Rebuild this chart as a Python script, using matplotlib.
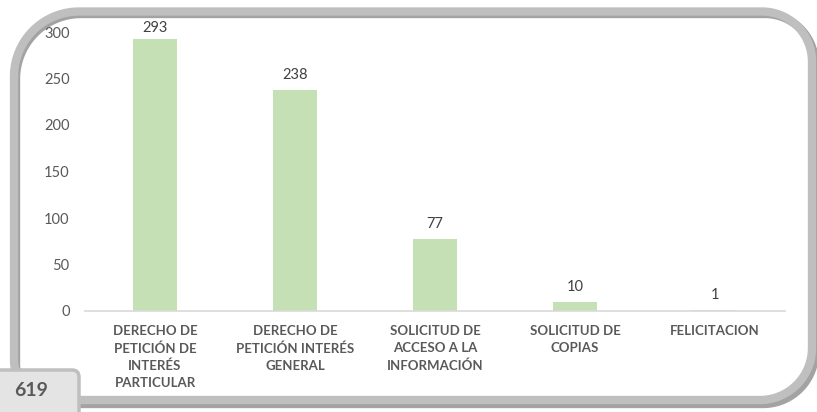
import numpy as np
import matplotlib.pyplot as plt
from matplotlib.path import Path
from matplotlib.patches import PathPatch, FancyBboxPatch

plt.rcParams['font.family'] = ['Lato', 'DejaVu Sans']

# Data
categories = ['DERECHO DE\nPETICIÓN DE\nINTERÉS\nPARTICULAR',
              'DERECHO DE\nPETICIÓN INTERÉS\nGENERAL',
              'SOLICITUD DE\nACCESO A LA\nINFORMACIÓN',
              'SOLICITUD DE\nCOPIAS',
              'FELICITACION']
values = [293, 238, 77, 10, 1]
total_label = '619'
yticks = [0, 50, 100, 150, 200, 250, 300]

W, H = 817, 412
fig = plt.figure(figsize=(W / 100, H / 100), dpi=100)

# background layer in pixel coordinates for the frame
bg = fig.add_axes([0, 0, 1, 1], zorder=0)
bg.set_xlim(0, W)
bg.set_ylim(H, 0)
bg.axis('off')


def rounded_frame(x0, y0, x1, y1, r_tl, r_tr, r_br, r_bl):
    pts = []

    def arc(cx, cy, r, a0, a1):
        t = np.radians(np.linspace(a0, a1, 30))
        return list(zip(cx + r * np.cos(t), cy + r * np.sin(t)))

    pts += arc(x0 + r_tl, y0 + r_tl, r_tl, 180, 270)
    pts += arc(x1 - r_tr, y0 + r_tr, r_tr, 270, 360)
    pts += arc(x1 - r_br, y1 - r_br, r_br, 0, 90)
    pts += arc(x0 + r_bl, y1 - r_bl, r_bl, 90, 180)
    pts.append(pts[0])
    return Path(pts)


shadow = rounded_frame(16, 14, 815, 404, 65, 50, 52, 40)
bg.add_patch(PathPatch(shadow, fill=False, edgecolor='#a3a3a3', lw=6))
frame = rounded_frame(14, 11.5, 812, 400, 65, 50, 52, 40)
bg.add_patch(PathPatch(frame, fill=False, edgecolor='#bfbfbf', lw=6))

# total box bottom-left
box = FancyBboxPatch((-10, 370), 89, 60, boxstyle='round,pad=0,rounding_size=7',
                     facecolor='#e4e4e4', edgecolor='#bfbfbf', lw=2.5)
bg.add_patch(box)
bg.text(31, 391, total_label, fontsize=14, fontweight='bold', color='#595959',
        ha='center', va='center')

# chart
ax = fig.add_axes([85 / W, 1 - 311 / H, 700 / W, (311 - 32) / H], zorder=1)
ax.patch.set_alpha(0)
x = np.arange(len(values))
bars = ax.bar(x, values, width=0.315, color='#c5e0b4', zorder=2)
ax.set_xlim(-0.5, len(values) - 0.5)
ax.set_ylim(0, 300)
ax.set_yticks(yticks)
ax.tick_params(axis='y', length=0, labelsize=10.5, labelcolor='#595959', pad=11)
ax.set_xticks(x)
ax.set_xticklabels(categories, fontsize=9.5, fontweight='bold', color='#595959',
                   linespacing=1.5, va='top')
ax.tick_params(axis='x', length=0, pad=10)
for s in ['top', 'right', 'left']:
    ax.spines[s].set_visible(False)
ax.spines['bottom'].set_color('#d9d9d9')
ax.spines['bottom'].set_linewidth(1.2)

for xi, v in zip(x, values):
    off = 5 if v > 280 else 8  # top label is pushed down to stay in the frame
    ax.annotate(str(v), (xi, v), xytext=(0, off), textcoords='offset points',
                ha='center', va='baseline', fontsize=10.5, color='#404040',
                annotation_clip=False)

fig.savefig('out.png', dpi=100)
